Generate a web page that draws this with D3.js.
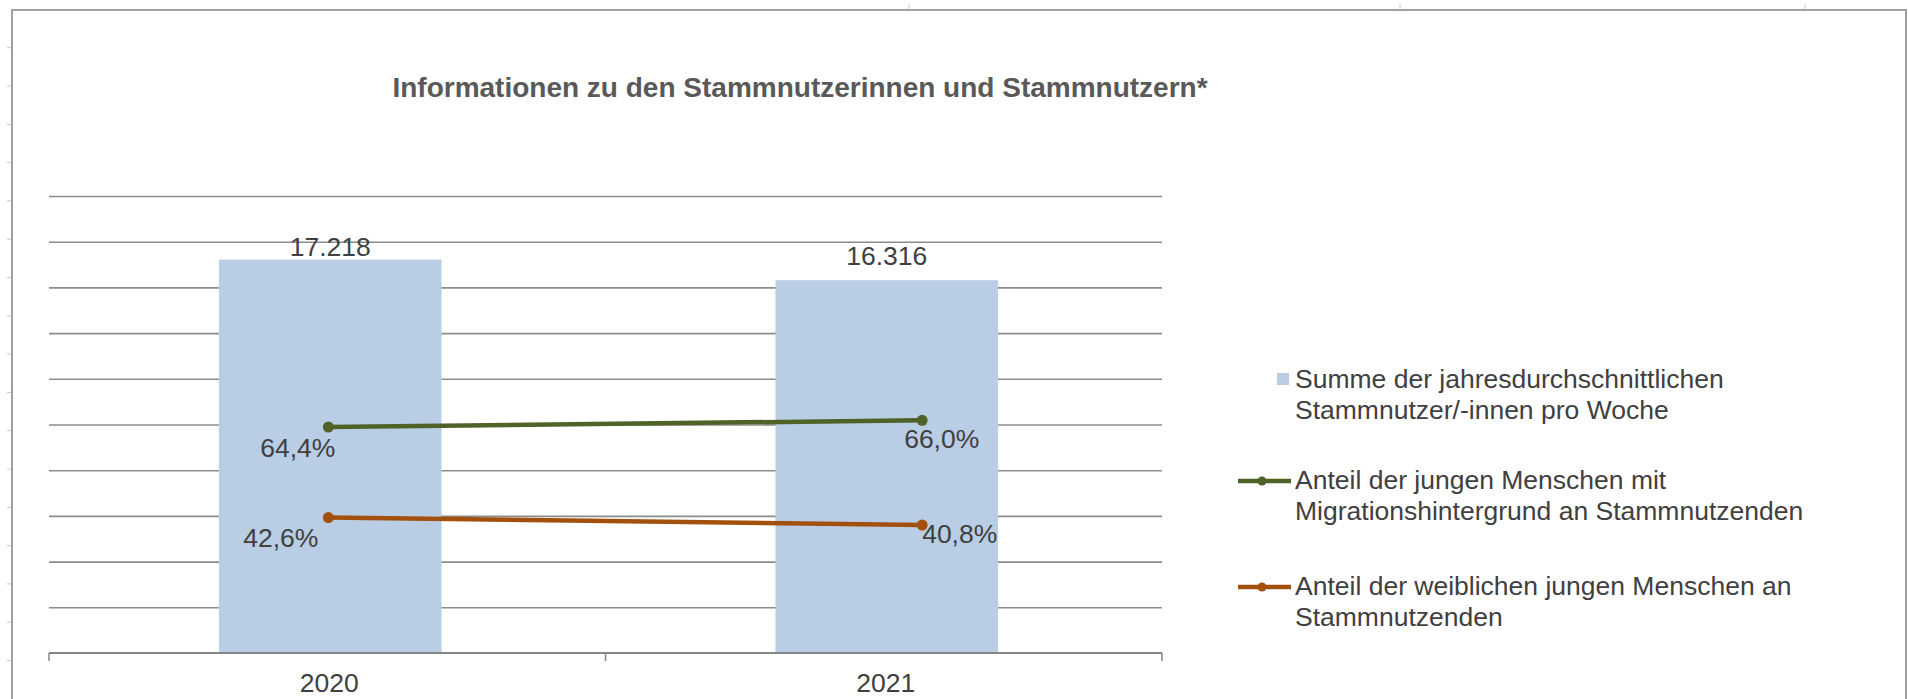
<!DOCTYPE html>
<html>
<head>
<meta charset="utf-8">
<script src="https://cdn.jsdelivr.net/npm/d3@7"></script>
<style>
  body { margin: 0; background: #fff; }
  svg text { font-family: "Liberation Sans", Arial, sans-serif; fill: #404040; }
</style>
</head>
<body>
<div id="chart"></div>
<script>
// data
var years = ['2020', '2021'];
var nutzer = [17218, 16316];
var migration = [64.4, 66.0];
var weiblich = [42.6, 40.8];
var yTicks = [0, 2000, 4000, 6000, 8000, 10000, 12000, 14000, 16000, 18000, 20000];
var seriesNames = [
  ['Summe der jahresdurchschnittlichen', 'Stammnutzer/-innen pro Woche'],
  ['Anteil der jungen Menschen mit', 'Migrationshintergrund an Stammnutzenden'],
  ['Anteil der weiblichen jungen Menschen an', 'Stammnutzenden']
];
var title = 'Informationen zu den Stammnutzerinnen und Stammnutzern*';

var width = 1908;
var height = 699;
var plot = { left: 49, right: 1162, top: 196, bottom: 653 };
var fontSize = 26.5;

var svg = d3.select('#chart').append('svg')
  .attr('width', width)
  .attr('height', height);

// spreadsheet background bits + chart frame
var rowMarks = d3.range(47.7, 670, 38.3);
svg.selectAll('.rowmark')
  .data(rowMarks)
  .enter()
  .append('line')
  .attr('x1', 7).attr('x2', 12)
  .attr('y1', function(d) { return d; })
  .attr('y2', function(d) { return d; })
  .style('stroke', '#c8c8c8')
  .style('stroke-width', 1);

svg.selectAll('.colmark')
  .data([909, 1400, 1805])
  .enter()
  .append('line')
  .attr('x1', function(d) { return d; })
  .attr('x2', function(d) { return d; })
  .attr('y1', 4).attr('y2', 10)
  .style('stroke', '#c8c8c8')
  .style('stroke-width', 1);

svg.append('path')
  .attr('d', 'M12,' + height + 'V10H1906V' + height)
  .style('fill', 'none')
  .style('stroke', '#a0a0a0')
  .style('stroke-width', 2);

// scales
var xScale = d3.scaleBand()
  .domain(years)
  .range([plot.left + 3, plot.right + 3])
  .paddingInner(0.6)
  .paddingOuter(0.3);

var xCat = d3.scaleBand()
  .domain(years)
  .range([plot.left, plot.right]);

var yScale = d3.scaleLinear()
  .domain([0, 20000])
  .range([plot.bottom, plot.top]);

var plotW = plot.right - plot.left;
var xLine = d3.scalePoint()
  .domain(years)
  .range([plot.left + plotW * 0.251, plot.left + plotW * 0.7845]);

var y2Scale = d3.scaleLinear()
  .domain([10, 120])
  .range([plot.bottom, plot.top]);

// gridlines
svg.append('g')
  .attr('transform', 'translate(' + plot.left + ',0)')
  .call(d3.axisLeft(yScale).tickValues(yTicks.slice(1)).tickSize(-plotW).tickFormat(''))
  .call(function(g) {
    g.select('.domain').remove();
    g.selectAll('line').style('stroke', '#8c8c8c').style('stroke-width', 1.6);
  });

// bars
svg.selectAll('.bar')
  .data(nutzer)
  .enter()
  .append('rect')
  .attr('x', function(d, i) { return xScale(years[i]); })
  .attr('y', function(d) { return yScale(d); })
  .attr('width', xScale.bandwidth())
  .attr('height', function(d) { return plot.bottom - yScale(d); })
  .style('fill', '#b9cde5');

// x axis
var xAxis = svg.append('g')
  .attr('transform', 'translate(0,' + plot.bottom + ')');
xAxis.append('line')
  .attr('x1', plot.left).attr('x2', plot.right)
  .style('stroke', '#868686').style('stroke-width', 1.8);
xAxis.selectAll('.tick')
  .data([plot.left, xCat(years[1]), plot.right])
  .enter()
  .append('line')
  .attr('x1', function(d) { return d; })
  .attr('x2', function(d) { return d; })
  .attr('y1', 0).attr('y2', 8)
  .style('stroke', '#868686').style('stroke-width', 1.5);
xAxis.selectAll('.lbl')
  .data(years)
  .enter()
  .append('text')
  .attr('x', function(d) { return xCat(d) + xCat.bandwidth() / 2 + 2; })
  .attr('y', 39)
  .attr('text-anchor', 'middle')
  .style('font-size', fontSize + 'px')
  .text(function(d) { return d; });

// bar labels
var barLabelDy = [-3.5, -15];
svg.selectAll('.barlabel')
  .data(nutzer)
  .enter()
  .append('text')
  .attr('x', function(d, i) { return xScale(years[i]) + xScale.bandwidth() / 2; })
  .attr('y', function(d, i) { return yScale(d) + barLabelDy[i]; })
  .attr('text-anchor', 'middle')
  .style('font-size', fontSize + 'px')
  .text(function(d) { return d3.format(',')(d).replace(',', '.'); });

// lines
var lineSeries = [
  { values: migration, color: '#4f6228',
    labels: [{ dx: 7, dy: 30, anchor: 'end' }, { dx: -18, dy: 28, anchor: 'start' }] },
  { values: weiblich, color: '#a4500d',
    labels: [{ dx: -10, dy: 29, anchor: 'end' }, { dx: 0, dy: 18, anchor: 'start' }] }
];

var line = d3.line()
  .x(function(d, i) { return xLine(years[i]); })
  .y(function(d) { return y2Scale(d); });

lineSeries.forEach(function(s) {
  svg.append('path')
    .datum(s.values)
    .attr('d', line)
    .style('fill', 'none')
    .style('stroke', s.color)
    .style('stroke-width', 4.5);

  svg.selectAll(null)
    .data(s.values)
    .enter()
    .append('circle')
    .attr('cx', function(d, i) { return xLine(years[i]); })
    .attr('cy', function(d) { return y2Scale(d); })
    .attr('r', 5.5)
    .style('fill', s.color);

  svg.selectAll(null)
    .data(s.values)
    .enter()
    .append('text')
    .attr('x', function(d, i) { return xLine(years[i]) + s.labels[i].dx; })
    .attr('y', function(d, i) { return y2Scale(d) + s.labels[i].dy; })
    .attr('text-anchor', function(d, i) { return s.labels[i].anchor; })
    .style('font-size', fontSize + 'px')
    .text(function(d) { return d3.format('.1f')(d).replace('.', ',') + '%'; });
});

// title
svg.append('text')
  .attr('x', 800)
  .attr('y', 97)
  .attr('text-anchor', 'middle')
  .style('font-size', '28px')
  .style('font-weight', 'bold')
  .style('fill', '#595959')
  .text(title);

// legend
var legendY = [388, 489, 595];
var legend = svg.append('g')
  .selectAll('g')
  .data(seriesNames)
  .enter()
  .append('g')
  .attr('transform', function(d, i) { return 'translate(1295,' + legendY[i] + ')'; });

legend.append('text')
  .style('font-size', fontSize + 'px')
  .selectAll('tspan')
  .data(function(d) { return d; })
  .enter()
  .append('tspan')
  .attr('x', 0)
  .attr('y', function(d, i) { return i * 30.5; })
  .text(function(d) { return d; });

legend.filter(function(d, i) { return i === 0; })
  .append('rect')
  .attr('x', -18).attr('y', -15)
  .attr('width', 12).attr('height', 12)
  .style('fill', '#b9cde5');

legend.filter(function(d, i) { return i > 0; })
  .each(function(d, i) {
    var g = d3.select(this);
    var c = lineSeries[i].color;
    g.append('line')
      .attr('x1', -57).attr('x2', -4)
      .attr('y1', -8).attr('y2', -8)
      .style('stroke', c).style('stroke-width', 4.5);
    g.append('circle')
      .attr('cx', -33).attr('cy', -8).attr('r', 4.5)
      .style('fill', c);
  });
</script>
</body>
</html>
